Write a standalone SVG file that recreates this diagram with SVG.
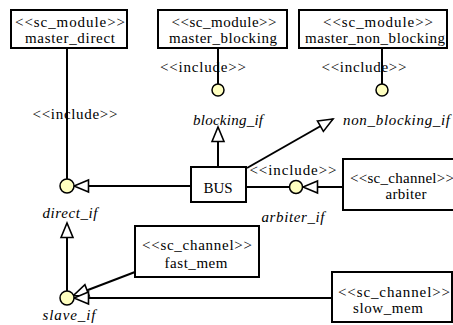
<svg xmlns="http://www.w3.org/2000/svg" width="453" height="325" viewBox="0 0 453 325">
<style>
.box{fill:#fff;stroke:#000;stroke-width:2}
.ln{stroke:#000;stroke-width:2;fill:none}
.if{fill:#ffffc0;stroke:#000;stroke-width:1.5}
</style>
<defs>
<marker id="tri" markerUnits="userSpaceOnUse" markerWidth="18" markerHeight="16" refX="16" refY="7" orient="auto" viewBox="0 0 18 14">
<path d="M1.5,1 L16,7 L1.5,13 Z" fill="#fff" stroke="#000" stroke-width="1.6"/>
</marker>
</defs>
<rect width="453" height="325" fill="#fff"/>
<g font-family="Liberation Serif, serif" font-size="15" fill="#000">
<g id="connectors">
<line class="ln" x1="67" y1="48" x2="67" y2="180"/>
<line class="ln" x1="218" y1="48" x2="218" y2="84"/>
<line class="ln" x1="382" y1="48" x2="382" y2="84"/>
<line class="ln" x1="191" y1="186" x2="74" y2="186" marker-end="url(#tri)"/>
<line class="ln" x1="218" y1="167" x2="218" y2="127" marker-end="url(#tri)"/>
<line class="ln" x1="247" y1="168" x2="333" y2="119" marker-end="url(#tri)"/>
<line class="ln" x1="246" y1="187" x2="290" y2="187"/>
<line class="ln" x1="343" y1="187" x2="303" y2="187" marker-end="url(#tri)"/>
<line class="ln" x1="67" y1="291" x2="67" y2="223" marker-end="url(#tri)"/>
<line class="ln" x1="135" y1="272" x2="73.5" y2="295.5" marker-end="url(#tri)"/>
<line class="ln" x1="332" y1="298" x2="74" y2="298" marker-end="url(#tri)"/>
<text text-anchor="middle" x="75" y="119" textLength="85">&lt;&lt;include&gt;&gt;</text>
<text text-anchor="middle" x="203" y="72" textLength="86">&lt;&lt;include&gt;&gt;</text>
<text text-anchor="middle" x="364" y="72" textLength="85">&lt;&lt;include&gt;&gt;</text>
<text text-anchor="middle" x="293" y="175" textLength="87">&lt;&lt;include&gt;&gt;</text>
</g>
<g id="master_direct">
<rect class="box" x="11" y="10" width="116" height="38"/>
<text text-anchor="middle" x="70" y="27" textLength="110">&lt;&lt;sc_module&gt;&gt;</text>
<text text-anchor="middle" x="70" y="43" textLength="90">master_direct</text>
</g>
<g id="master_blocking">
<rect class="box" x="158" y="10" width="129" height="38"/>
<text text-anchor="middle" x="224" y="27" textLength="105">&lt;&lt;sc_module&gt;&gt;</text>
<text text-anchor="middle" x="223" y="43" textLength="108">master_blocking</text>
</g>
<g id="master_non_blocking">
<rect class="box" x="299" y="10" width="148" height="38"/>
<text text-anchor="middle" x="378" y="27" textLength="110">&lt;&lt;sc_module&gt;&gt;</text>
<text text-anchor="middle" x="375" y="43" textLength="140">master_non_blocking</text>
</g>
<g id="blocking_if">
<circle class="if" cx="218" cy="90" r="6"/>
<text font-style="italic" text-anchor="middle" x="228" y="125" textLength="70">blocking_if</text>
</g>
<g id="non_blocking_if">
<circle class="if" cx="382" cy="90" r="6"/>
<text font-style="italic" x="343" y="125" textLength="107">non_blocking_if</text>
</g>
<g id="direct_if">
<circle class="if" cx="67" cy="186" r="7"/>
<text font-style="italic" text-anchor="middle" x="70" y="218" textLength="55">direct_if</text>
</g>
<g id="BUS">
<rect class="box" x="191" y="167" width="55" height="35"/>
<text text-anchor="middle" x="218" y="193" textLength="29">BUS</text>
</g>
<g id="arbiter_if">
<circle class="if" cx="296" cy="187" r="6.5"/>
<text font-style="italic" text-anchor="middle" x="293" y="222" textLength="63">arbiter_if</text>
</g>
<g id="arbiter">
<rect class="box" x="343" y="159" width="112" height="51"/>
<text text-anchor="middle" x="402" y="183" textLength="104">&lt;&lt;sc_channel&gt;&gt;</text>
<text text-anchor="middle" x="406" y="199" textLength="41">arbiter</text>
</g>
<g id="fast_mem">
<rect class="box" x="135" y="226" width="124" height="51"/>
<text text-anchor="middle" x="197" y="250" textLength="110">&lt;&lt;sc_channel&gt;&gt;</text>
<text text-anchor="middle" x="196" y="268" textLength="63">fast_mem</text>
</g>
<g id="slow_mem">
<rect class="box" x="332" y="272" width="120" height="50"/>
<text text-anchor="middle" x="394" y="297" textLength="112">&lt;&lt;sc_channel&gt;&gt;</text>
<text text-anchor="middle" x="388" y="313" textLength="70">slow_mem</text>
</g>
<g id="slave_if">
<circle class="if" cx="67" cy="298" r="7"/>
<text font-style="italic" text-anchor="middle" x="69" y="320" textLength="53">slave_if</text>
</g>
</g>
</svg>
